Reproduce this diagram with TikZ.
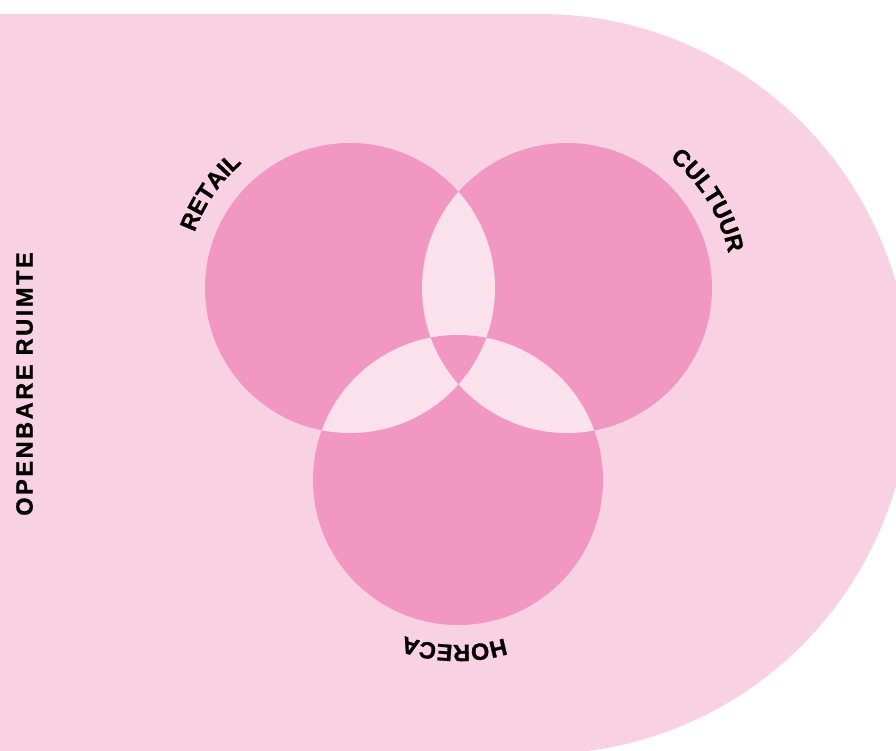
\documentclass[tikz,border=0pt]{standalone}
\usepackage{fontspec}
\setmainfont{Liberation Sans}
\usetikzlibrary{decorations.text}
\definecolor{bgpink}{RGB}{248,209,227}
\definecolor{cpink}{RGB}{242,151,193}
\definecolor{lpink}{RGB}{250,225,236}
\newfontfamily\lblfam{Liberation Sans}[UprightFont={* Bold}, UprightFeatures={FakeBold=1.2}]
\newfontfamily\obfam{Liberation Sans}[UprightFont={* Bold}, UprightFeatures={FakeBold=1.2}, LetterSpace=11]
\newcommand\lblfont{\lblfam\fontsize{23.5}{28}\selectfont}
\newcommand\obfont{\obfam\fontsize{23.5}{28}\selectfont}
\begin{document}
\begin{tikzpicture}[x=1pt,y=1pt,
  venn/.style={circle, minimum size=290pt, inner sep=0pt, fill=cpink},
  arclabel/.style={decorate, decoration={text along path, text align=center, text={|\lblfont|#1}}}]
\useasboundingbox (0,0) rectangle (896,750);
\clip (0,0) rectangle (896,750);
% outer area
\fill[bgpink] (0,736) -- (540,736) arc[start angle=90, end angle=-90, radius=370] -- (0,-4) -- cycle;
% circles
\node[venn] (retail) at (350,462) {};
\node[venn] (cultuur) at (567,462) {};
\node[venn] (horeca) at (458,270) {};
% pairwise lenses
\begin{scope}
  \clip (350,462) circle[radius=145];
  \fill[lpink] (567,462) circle[radius=145];
  \fill[lpink] (458,270) circle[radius=145];
\end{scope}
\begin{scope}
  \clip (567,462) circle[radius=145];
  \fill[lpink] (458,270) circle[radius=145];
\end{scope}
% triple intersection
\begin{scope}
  \clip (350,462) circle[radius=145];
  \clip (567,462) circle[radius=145];
  \fill[cpink] (458,270) circle[radius=145];
\end{scope}
% curved labels
\path[arclabel=RETAIL] (retail.center) ++(170.6:165) arc[start angle=170.6, end angle=120.6, radius=165];
\path[arclabel=CULTUUR] (cultuur.center) ++(61.8:165) arc[start angle=61.8, end angle=1.8, radius=165];
\path[arclabel=HORECA] (horeca.center) ++(-61.3:165) arc[start angle=-61.3, end angle=-121.3, radius=165];
% side label
\node[rotate=90, font=\obfont, inner sep=0pt] (openbare) at (24.5,366) {OPENBARE RUIMTE};
\end{tikzpicture}
\end{document}
